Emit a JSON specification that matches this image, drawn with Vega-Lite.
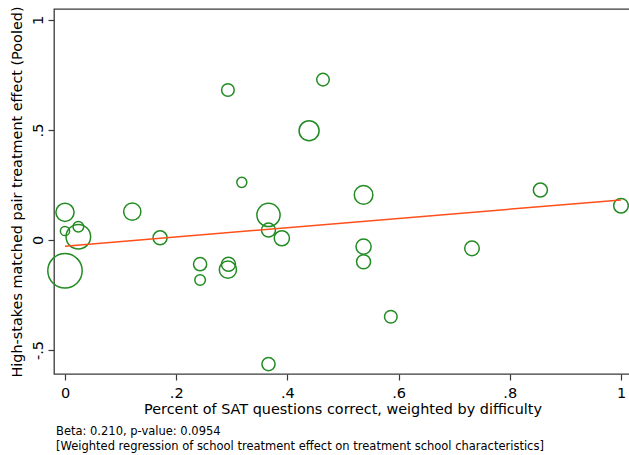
{
  "$schema": "https://vega.github.io/schema/vega-lite/v6.json",
  "width": 577,
  "height": 365,
  "autosize": {"type": "none"},
  "padding": {"left": 54, "top": 9, "right": 0, "bottom": 81},
  "background": "white",
  "title": {
    "text": ["Beta: 0.210, p-value: 0.0954", "[Weighted regression of school treatment effect on treatment school characteristics]"],
    "orient": "bottom",
    "anchor": "start",
    "frame": "group",
    "font": "DejaVu Sans",
    "fontSize": 11.5,
    "fontWeight": "normal",
    "color": "#000000",
    "lineHeight": 14.5,
    "dx": 2,
    "offset": 11
  },
  "config": {
    "view": {"stroke": "#3a3a3a", "strokeWidth": 1.3},
    "font": "DejaVu Sans",
    "axis": {
      "domain": false,
      "grid": false,
      "tickColor": "#3a3a3a",
      "tickWidth": 1.2,
      "tickSize": 6,
      "labelFont": "DejaVu Sans",
      "labelFontSize": 14.5,
      "labelColor": "#000000",
      "titleFont": "DejaVu Sans",
      "titleFontSize": 14.4,
      "titleFontWeight": "normal",
      "titleColor": "#000000"
    }
  },
  "datasets": {
    "schools": [
      {"score": 0.0, "effect": -0.14, "weight": 100},
      {"score": 0.0, "effect": 0.126, "weight": 28},
      {"score": 0.0, "effect": 0.041, "weight": 7.2},
      {"score": 0.024, "effect": 0.06, "weight": 9.5},
      {"score": 0.024, "effect": 0.015, "weight": 51},
      {"score": 0.121, "effect": 0.129, "weight": 25},
      {"score": 0.171, "effect": 0.01, "weight": 16.6},
      {"score": 0.243, "effect": -0.11, "weight": 14.7},
      {"score": 0.243, "effect": -0.182, "weight": 9.5},
      {"score": 0.293, "effect": 0.682, "weight": 13.4},
      {"score": 0.318, "effect": 0.262, "weight": 8.5},
      {"score": 0.464, "effect": 0.729, "weight": 13.4},
      {"score": 0.439, "effect": 0.497, "weight": 33.8},
      {"score": 0.537, "effect": 0.205, "weight": 29.2},
      {"score": 0.366, "effect": 0.114, "weight": 45.5},
      {"score": 0.366, "effect": 0.045, "weight": 16.6},
      {"score": 0.39, "effect": 0.008, "weight": 19.5},
      {"score": 0.294, "effect": -0.11, "weight": 16.6},
      {"score": 0.293, "effect": -0.135, "weight": 25},
      {"score": 0.537, "effect": -0.03, "weight": 19.5},
      {"score": 0.537, "effect": -0.099, "weight": 16.6},
      {"score": 0.586, "effect": -0.349, "weight": 13.4},
      {"score": 0.366, "effect": -0.564, "weight": 14.7},
      {"score": 0.732, "effect": -0.038, "weight": 18},
      {"score": 0.855, "effect": 0.227, "weight": 16.6},
      {"score": 1.0, "effect": 0.156, "weight": 18}
    ],
    "fit": [
      {"score": 0.0, "fitted": -0.028},
      {"score": 1.0, "fitted": 0.182}
    ]
  },
  "layer": [
    {
      "data": {"name": "schools"},
      "mark": {"type": "point", "shape": "circle", "filled": false, "stroke": "#228b22", "strokeWidth": 1.5, "opacity": 1, "clip": false},
      "encoding": {
        "x": {
          "field": "score", "type": "quantitative",
          "scale": {"domain": [-0.01978, 1.018], "nice": false, "zero": false},
          "axis": {
            "title": "Percent of SAT questions correct, weighted by difficulty",
            "values": [0, 0.2, 0.4, 0.6, 0.8, 1],
            "labelExpr": "datum.value == 0 ? '0' : datum.value == 1 ? '1' : replace(format(datum.value, '.1f'), '0.', '.')",
            "labelBaseline": "top",
            "labelPadding": 6,
            "labelAlign": "center",
            "titleX": 288.5,
            "titleY": 39,
            "titleAlign": "center",
            "titleBaseline": "alphabetic"
          }
        },
        "y": {
          "field": "effect", "type": "quantitative",
          "scale": {"domain": [-0.609, 1.05], "nice": false, "zero": false},
          "axis": {
            "title": "High-stakes matched pair treatment effect (Pooled)",
            "values": [-0.5, 0, 0.5, 1],
            "labelExpr": "datum.value == 0 ? '0' : datum.value == 1 ? '1' : datum.value == 0.5 ? '.5' : '-.5'",
            "labelAngle": 270,
            "labelAlign": "center",
            "labelBaseline": "alphabetic",
            "labelPadding": 6,
            "titleAngle": 270,
            "titleX": -32.4,
            "titleY": 182.5,
            "titleAlign": "center",
            "titleBaseline": "alphabetic"
          }
        },
        "size": {
          "field": "weight", "type": "quantitative",
          "scale": {"domain": [0, 100], "range": [0, 1183], "zero": true},
          "legend": null
        }
      }
    },
    {
      "data": {"name": "fit"},
      "mark": {"type": "line", "color": "#ff4f1a", "strokeWidth": 1.5},
      "encoding": {
        "x": {
          "field": "score", "type": "quantitative",
          "scale": {"domain": [-0.01978, 1.018], "nice": false, "zero": false},
          "axis": {
            "title": "Percent of SAT questions correct, weighted by difficulty",
            "values": [0, 0.2, 0.4, 0.6, 0.8, 1],
            "labelExpr": "datum.value == 0 ? '0' : datum.value == 1 ? '1' : replace(format(datum.value, '.1f'), '0.', '.')",
            "labelBaseline": "top",
            "labelPadding": 6,
            "labelAlign": "center",
            "titleX": 288.5,
            "titleY": 39,
            "titleAlign": "center",
            "titleBaseline": "alphabetic"
          }
        },
        "y": {
          "field": "fitted", "type": "quantitative",
          "scale": {"domain": [-0.609, 1.05], "nice": false, "zero": false},
          "axis": {
            "title": "High-stakes matched pair treatment effect (Pooled)",
            "values": [-0.5, 0, 0.5, 1],
            "labelExpr": "datum.value == 0 ? '0' : datum.value == 1 ? '1' : datum.value == 0.5 ? '.5' : '-.5'",
            "labelAngle": 270,
            "labelAlign": "center",
            "labelBaseline": "alphabetic",
            "labelPadding": 6,
            "titleAngle": 270,
            "titleX": -32.4,
            "titleY": 182.5,
            "titleAlign": "center",
            "titleBaseline": "alphabetic"
          }
        }
      }
    }
  ]
}
